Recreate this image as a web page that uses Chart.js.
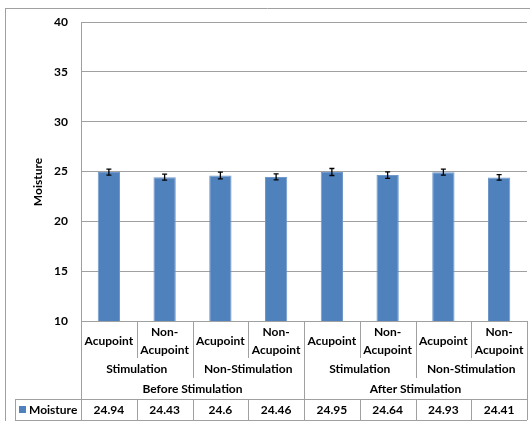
<!DOCTYPE html>
<html>
<head>
<meta charset="utf-8">
<script src="https://cdn.jsdelivr.net/npm/chart.js@4.4.0/dist/chart.umd.min.js"></script>
<style>
  html, body { margin: 0; padding: 0; background: #fff; }
</style>
</head>
<body>
<canvas id="moistureChart" width="530" height="421"></canvas>
<script>
// Data
const categories = ['Acupoint', ['Non-', 'Acupoint'], 'Acupoint', ['Non-', 'Acupoint'],
  'Acupoint', ['Non-', 'Acupoint'], 'Acupoint', ['Non-', 'Acupoint']];
const subGroups = ['Stimulation', 'Non-Stimulation', 'Stimulation', 'Non-Stimulation'];
const mainGroups = ['Before Stimulation', 'After Stimulation'];
const moisture = [24.94, 24.43, 24.6, 24.46, 24.95, 24.64, 24.93, 24.41];
const moistureErr = [0.3, 0.3, 0.33, 0.3, 0.35, 0.33, 0.3, 0.27];
const yTicks = [10, 15, 20, 25, 30, 35, 40];

const FONT = 'Lato, "Open Sans", sans-serif';
const LINE = '#a0a0a0';
const BLUE = '#4f81bd';

// error bars
const errorBars = {
  id: 'errorBars',
  afterDatasetsDraw(chart) {
    const ctx = chart.ctx;
    const y = chart.scales.y;
    const meta = chart.getDatasetMeta(0);
    ctx.save();
    ctx.strokeStyle = '#000';
    ctx.lineWidth = 1.3;
    meta.data.forEach((bar, i) => {
      const top = y.getPixelForValue(moisture[i] + moistureErr[i]);
      const bot = y.getPixelForValue(moisture[i] - moistureErr[i]);
      ctx.beginPath();
      ctx.moveTo(bar.x, top);
      ctx.lineTo(bar.x, bot);
      ctx.moveTo(bar.x - 2.5, top);
      ctx.lineTo(bar.x + 2.5, top);
      ctx.moveTo(bar.x - 2.5, bot);
      ctx.lineTo(bar.x + 2.5, bot);
      ctx.stroke();
    });
    ctx.restore();
  }
};

// Excel style data table + axis title + frame
const dataTable = {
  id: 'dataTable',
  afterDraw(chart) {
    const ctx = chart.ctx;
    const area = chart.chartArea;
    const x = chart.scales.x;
    const n = moisture.length;

    const edges = [];
    for (let i = 0; i <= n; i++) {
      if (i === 0) edges.push(area.left);
      else if (i === n) edges.push(area.right);
      else edges.push((x.getPixelForValue(i - 1) + x.getPixelForValue(i)) / 2);
    }

    const rowA = area.bottom, rowB = 358, rowC = 378, rowD = 399, rowEnd = 420;
    const tableLeft = 15;

    ctx.save();
    ctx.strokeStyle = LINE;
    ctx.lineWidth = 1;

    const line = (x1, y1, x2, y2) => {
      ctx.beginPath();
      ctx.moveTo(x1, y1);
      ctx.lineTo(x2, y2);
      ctx.stroke();
    };

    // frame
    line(5, 8.5, 530, 8.5);
    line(5.5, 8, 5.5, 421);

    line(tableLeft, rowD + 0.5, area.right, rowD + 0.5);
    line(tableLeft, rowEnd + 0.5, area.right, rowEnd + 0.5);
    line(tableLeft + 0.5, rowD, tableLeft + 0.5, rowEnd);

    edges.forEach((ex, i) => {
      const px = Math.round(ex) + 0.5;
      if (i === 0 || i === n || i % 4 === 0) {
        line(px, rowA, px, rowEnd);
      } else if (i % 2 === 0) {
        line(px, rowA, px, rowC);
        line(px, rowD, px, rowEnd);
      } else {
        line(px, rowA, px, rowB);
        line(px, rowD, px, rowEnd);
      }
    });

    ctx.fillStyle = '#000';
    ctx.font = 'bold 12px ' + FONT;
    ctx.textAlign = 'center';
    ctx.textBaseline = 'middle';

    categories.forEach((c, i) => {
      const cx = x.getPixelForValue(i);
      if (Array.isArray(c)) {
        ctx.fillText(c[0], cx, 332);
        ctx.fillText(c[1], cx, 350);
      } else {
        ctx.fillText(c, cx, 341);
      }
    });

    subGroups.forEach((g, i) => {
      ctx.fillText(g, (edges[i * 2] + edges[i * 2 + 2]) / 2, 369);
    });

    mainGroups.forEach((g, i) => {
      ctx.fillText(g, (edges[i * 4] + edges[i * 4 + 4]) / 2, 389);
    });

    moisture.forEach((v, i) => {
      ctx.fillText(String(v), x.getPixelForValue(i), 410);
    });

    // legend key in table
    ctx.fillStyle = BLUE;
    ctx.fillRect(19, 406, 7, 7);
    ctx.fillStyle = '#000';
    ctx.textAlign = 'left';
    ctx.fillText('Moisture', 29, 410);

    // y axis title
    ctx.translate(38, 182);
    ctx.rotate(-Math.PI / 2);
    ctx.textAlign = 'center';
    ctx.fillText('Moisture', 0, 0);

    ctx.restore();
  }
};

const ctx = document.getElementById('moistureChart').getContext('2d');

const moistureChart = new Chart(ctx, {
  type: 'bar',
  data: {
    labels: categories,
    datasets: [
      {
        label: 'Moisture',
        data: moisture,
        backgroundColor: BLUE,
        borderColor: '#6f98cc',
        borderWidth: 1,
        barPercentage: 0.4,
        categoryPercentage: 1
      }
    ]
  },
  options: {
    responsive: false,
    animation: false,
    layout: {
      padding: { top: 22, right: 3, bottom: 100, left: 0 }
    },
    plugins: {
      legend: { display: false },
      tooltip: { enabled: false }
    },
    scales: {
      x: {
        display: false
      },
      y: {
        min: yTicks[0],
        max: yTicks[yTicks.length - 1],
        afterFit(scale) {
          scale.width = 81;
        },
        afterBuildTicks(scale) {
          scale.ticks = yTicks.map(v => ({ value: v }));
        },
        ticks: {
          color: '#000',
          padding: 13,
          font: { family: FONT, size: 12, weight: 'bold' }
        },
        grid: {
          color: LINE,
          lineWidth: 1,
          drawTicks: false
        },
        border: { display: true, color: LINE }
      }
    }
  },
  plugins: [errorBars, dataTable]
});
</script>
</body>
</html>
